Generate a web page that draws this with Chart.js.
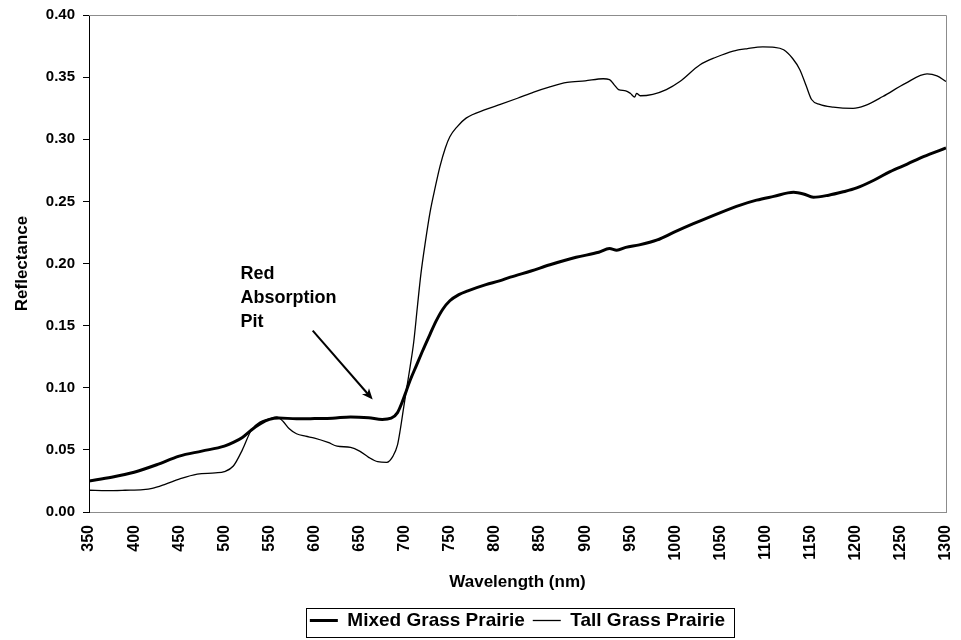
<!DOCTYPE html>
<html>
<head>
<meta charset="utf-8">
<script src="https://cdn.jsdelivr.net/npm/chart.js@4.4.1/dist/chart.umd.min.js"></script>
<style>
  html, body { margin: 0; padding: 0; background: #fff; }
  #wrap { width: 961px; height: 640px; }
</style>
</head>
<body>
<div id="wrap"><canvas id="spectra" width="961" height="640"></canvas></div>
<script>
// wavelength (nm) / reflectance
const mixedNm = [350, 375, 400, 425, 450, 475, 500, 510, 520, 530, 540, 550, 560, 580, 600, 620, 640, 660, 675, 685, 692, 698, 702, 706, 713, 720, 728, 735, 742, 750, 760, 770, 790, 805, 817, 840, 861, 890, 915, 927, 935, 945, 960, 980, 998, 1020, 1050, 1072, 1090, 1109, 1131, 1142, 1153, 1170, 1185, 1201, 1220, 1238, 1257, 1275, 1300];
const mixedRefl = [0.025, 0.028, 0.032, 0.038, 0.045, 0.049, 0.053, 0.056, 0.060, 0.066, 0.071, 0.0745, 0.0757, 0.075, 0.0752, 0.0755, 0.0765, 0.0758, 0.0745, 0.0755, 0.080, 0.090, 0.098, 0.106, 0.118, 0.130, 0.143, 0.154, 0.163, 0.170, 0.175, 0.178, 0.183, 0.186, 0.189, 0.194, 0.199, 0.205, 0.209, 0.212, 0.2107, 0.213, 0.215, 0.219, 0.225, 0.232, 0.241, 0.247, 0.251, 0.254, 0.2573, 0.256, 0.2533, 0.255, 0.2575, 0.2608, 0.267, 0.274, 0.280, 0.286, 0.293];

const tallNm = [350, 370, 390, 410, 420, 435, 450, 470, 490, 500, 510, 520, 530, 540, 550, 558, 565, 572, 580, 590, 600, 615, 625, 640, 650, 660, 670, 680, 687, 692, 695, 699, 702, 706, 710, 714, 718, 723, 728, 734, 739, 745, 750, 758, 768, 790, 806, 825, 843, 860, 880, 900, 920, 927, 932, 937, 945, 950, 955, 957, 961, 975, 990, 1005, 1027, 1045, 1064, 1080, 1097, 1110, 1120, 1130, 1138, 1145, 1151, 1160, 1175, 1197, 1210, 1230, 1255, 1279, 1290, 1300];
const tallRefl = [0.0175, 0.0172, 0.0175, 0.018, 0.019, 0.0225, 0.0265, 0.0305, 0.0315, 0.0325, 0.037, 0.050, 0.066, 0.0725, 0.075, 0.0765, 0.073, 0.067, 0.063, 0.061, 0.0595, 0.056, 0.053, 0.052, 0.049, 0.044, 0.0405, 0.040, 0.045, 0.054, 0.066, 0.085, 0.099, 0.117, 0.137, 0.165, 0.192, 0.218, 0.241, 0.262, 0.278, 0.293, 0.302, 0.310, 0.317, 0.324, 0.328, 0.333, 0.338, 0.342, 0.3457, 0.347, 0.3487, 0.348, 0.344, 0.340, 0.339, 0.337, 0.334, 0.337, 0.335, 0.3362, 0.340, 0.3465, 0.3598, 0.366, 0.371, 0.373, 0.3743, 0.374, 0.372, 0.365, 0.356, 0.343, 0.332, 0.328, 0.3258, 0.3248, 0.327, 0.3344, 0.345, 0.3526, 0.351, 0.3465];

const xTickValues = [350, 400, 450, 500, 550, 600, 650, 700, 750, 800, 850, 900, 950, 1000, 1050, 1100, 1150, 1200, 1250, 1300];
const yTickValues = [0, 0.05, 0.10, 0.15, 0.20, 0.25, 0.30, 0.35, 0.40];

const seriesNames = ['Mixed Grass Prairie', 'Tall Grass Prairie'];
const noteLines = ['Red', 'Absorption', 'Pit'];

const FONT = "'Liberation Sans', Arial, sans-serif";

function toPoints(xs, ys) {
    return xs.map((x, i) => ({ x: x, y: ys[i] }));
}

// gray frame on top/right plus box round the legend
const framePlugin = {
    id: 'frame',
    afterDraw(chart) {
        const { ctx, chartArea: a, legend } = chart;
        ctx.save();
        ctx.strokeStyle = '#8c8c8c';
        ctx.lineWidth = 1;
        ctx.beginPath();
        ctx.moveTo(a.left, a.top + 0.5);
        ctx.lineTo(a.right + 0.5, a.top + 0.5);
        ctx.lineTo(a.right + 0.5, a.bottom);
        ctx.stroke();

        if (legend && legend.legendHitBoxes.length) {
            const boxes = legend.legendHitBoxes;
            const first = boxes[0];
            const last = boxes[boxes.length - 1];
            const cy = first.top + first.height / 2;
            const x0 = Math.round(first.left - 4) + 0.5;
            const x1 = Math.round(last.left + last.width + 9) + 0.5;
            ctx.strokeStyle = '#000';
            ctx.strokeRect(x0, Math.round(cy - 13) + 0.5, x1 - x0, 29);
        }
        ctx.restore();
    }
};

// "Red Absorption Pit" note with arrow
const notePlugin = {
    id: 'note',
    afterDatasetsDraw(chart) {
        const { ctx, scales: { x, y } } = chart;
        ctx.save();
        ctx.fillStyle = '#000';
        ctx.font = 'bold 18px ' + FONT;
        ctx.textAlign = 'left';
        ctx.textBaseline = 'alphabetic';
        const tx = x.getPixelForValue(518);
        const ty = y.getPixelForValue(0.1876);
        noteLines.forEach((t, i) => ctx.fillText(t, tx, ty + i * 24));

        const sx = x.getPixelForValue(598), sy = y.getPixelForValue(0.146);
        const ex = x.getPixelForValue(664.5), ey = y.getPixelForValue(0.0905);
        const ang = Math.atan2(ey - sy, ex - sx);
        ctx.strokeStyle = '#000';
        ctx.lineWidth = 2;
        ctx.beginPath();
        ctx.moveTo(sx, sy);
        ctx.lineTo(ex - Math.cos(ang) * 6, ey - Math.sin(ang) * 6);
        ctx.stroke();
        ctx.beginPath();
        ctx.moveTo(ex, ey);
        ctx.lineTo(ex - Math.cos(ang - 0.4) * 12, ey - Math.sin(ang - 0.4) * 12);
        ctx.lineTo(ex - Math.cos(ang) * 8, ey - Math.sin(ang) * 8);
        ctx.lineTo(ex - Math.cos(ang + 0.4) * 12, ey - Math.sin(ang + 0.4) * 12);
        ctx.closePath();
        ctx.fill();
        ctx.restore();
    }
};

new Chart(document.getElementById('spectra'), {
    type: 'line',
    data: {
        datasets: [
            {
                label: seriesNames[0],
                data: toPoints(mixedNm, mixedRefl),
                borderColor: '#000',
                backgroundColor: '#000',
                borderWidth: 3,
                pointRadius: 0,
                cubicInterpolationMode: 'monotone',
                pointStyle: 'line'
            },
            {
                label: seriesNames[1],
                data: toPoints(tallNm, tallRefl),
                borderColor: '#000',
                backgroundColor: '#000',
                borderWidth: 1.3,
                pointRadius: 0,
                cubicInterpolationMode: 'monotone',
                pointStyle: 'line'
            }
        ]
    },
    options: {
        responsive: false,
        animation: false,
        layout: { padding: { left: 0, right: 15, top: 15, bottom: 0 } },
        plugins: {
            tooltip: { enabled: false },
            legend: {
                position: 'bottom',
                fullSize: false,
                labels: {
                    usePointStyle: true,
                    pointStyle: 'line',
                    pointStyleWidth: 28,
                    padding: 8,
                    color: '#000',
                    font: { family: FONT, size: 19, weight: 'bold' }
                }
            }
        },
        scales: {
            x: {
                type: 'linear',
                min: 350,
                max: 1300,
                afterBuildTicks: s => { s.ticks = xTickValues.map(v => ({ value: v })); },
                afterFit: s => { s.height = 91; s.paddingLeft = 0; s.paddingRight = 0; },
                grid: { display: false, drawTicks: false },
                border: { color: '#8c8c8c', width: 1 },
                ticks: {
                    autoSkip: false,
                    maxRotation: 90,
                    minRotation: 90,
                    padding: 13,
                    color: '#000',
                    font: { family: FONT, size: 16, weight: 'bold' },
                    callback: v => String(v)
                },
                title: {
                    display: true,
                    text: 'Wavelength (nm)',
                    color: '#000',
                    padding: { top: 0, bottom: 10 },
                    font: { family: FONT, size: 17, weight: 'bold' }
                }
            },
            y: {
                min: 0,
                max: 0.4,
                afterBuildTicks: s => { s.ticks = yTickValues.map(v => ({ value: v })); },
                afterFit: s => { s.width = 89; s.paddingTop = 0; s.paddingBottom = 0; },
                grid: { drawOnChartArea: false, drawTicks: true, tickLength: 6, color: '#000' },
                border: { color: '#000', width: 1 },
                ticks: {
                    padding: 8,
                    color: '#000',
                    font: { family: FONT, size: 15, weight: 'bold' },
                    callback: v => v.toFixed(2)
                },
                title: {
                    display: true,
                    text: 'Reflectance',
                    color: '#000',
                    padding: { top: 12, bottom: 0 },
                    font: { family: FONT, size: 17, weight: 'bold' }
                }
            }
        }
    },
    plugins: [framePlugin, notePlugin]
});
</script>
</body>
</html>
